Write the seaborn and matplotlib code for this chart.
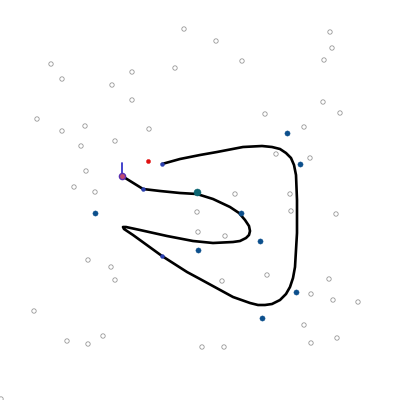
import matplotlib
matplotlib.use("Agg")
import matplotlib.pyplot as plt
import seaborn as sns
import pandas as pd

# hollow grey background points
grey_x = [184, 51, 62, 132, 175, 112, 132, 37, 62, 85, 149, 81, 115, 86, 74, 95,
          216, 330, 332, 242, 324, 323, 340, 265, 304, 310, 276, 235, 290,
          197, 198, 88, 111, 115, 34, 103, 67, 88,
          291, 336, 225, 267, 222, 329, 311, 333, 358, 304, 337, 311, 202, 224, 1]
grey_y = [29, 64, 79, 72, 68, 85, 100, 119, 131, 126, 129, 146, 141, 171, 187, 192,
          41, 32, 48, 61, 60, 102, 113, 114, 127, 158, 154, 194, 194,
          212, 232, 260, 267, 280, 311, 336, 341, 344,
          211, 214, 236, 275, 281, 279, 294, 300, 302, 325, 338, 343, 347, 347, 399]

# filled blue points
blue_x = [287, 300, 95, 198, 241, 260, 296, 262]
blue_y = [133, 164, 213, 250, 213, 241, 292, 318]

# curve path
path_x = [122, 143, 160, 180, 197, 213, 230, 239, 245, 249, 250, 249, 246, 240, 233, 213, 193, 167, 140,
          126, 123, 124, 127, 133, 162, 187, 200, 233, 250, 258, 265, 272, 280, 286, 290, 293, 295, 297, 297,
          296, 294, 291, 286, 280, 272, 262, 243, 217, 200, 180, 162]
path_y = [176, 189, 191, 193, 194, 199, 207, 213, 220, 226, 231, 235, 238, 241, 242, 243, 241, 236, 230,
          227, 227, 229, 231, 235, 256, 272, 279, 297, 303, 305, 305, 304, 300, 294, 287, 278, 267, 233, 200,
          175, 165, 158, 153, 149, 147, 146, 147, 152, 155, 159, 164]

# vertex markers on curve
vert_x = [143, 162, 162]
vert_y = [189, 256, 164]

# special marks
teal_x, teal_y = [197], [192]
red_x, red_y = [148], [161]
start_x, start_y = [122], [176]
stem_x, stem_y = [122, 122], [163, 176]

sns.set_style("white")
fig = plt.figure(figsize=(4, 4), dpi=100)
ax = fig.add_axes([0, 0, 1, 1])

path_df = pd.DataFrame({"x": path_x, "y": path_y})
sns.lineplot(data=path_df, x="x", y="y", sort=False, estimator=None, color="black",
             linewidth=1.9, ax=ax, zorder=3, solid_joinstyle="round")

sns.scatterplot(x=grey_x, y=grey_y, s=10, facecolor="none", edgecolor="#999999",
                linewidth=0.6, ax=ax, zorder=2)
sns.scatterplot(x=blue_x, y=blue_y, s=14, color="#0c4f8c", edgecolor="#0c4f8c",
                linewidth=0.3, ax=ax, zorder=4)
sns.scatterplot(x=vert_x, y=vert_y, s=8, color="#2a3fb0", edgecolor="#2a3fb0",
                linewidth=0.3, ax=ax, zorder=5)
sns.scatterplot(x=teal_x, y=teal_y, s=26, color="#0d6672", edgecolor="#0d6672",
                linewidth=0.3, ax=ax, zorder=5)
sns.scatterplot(x=red_x, y=red_y, s=9, color="#e01010", edgecolor="#e01010",
                linewidth=0.3, ax=ax, zorder=5)
sns.lineplot(x=stem_x, y=stem_y, sort=False, estimator=None, color="#3535c8",
             linewidth=1.3, ax=ax, zorder=5)
sns.scatterplot(x=start_x, y=start_y, s=20, color="#c04a70", edgecolor="#5a2fb0",
                linewidth=1.0, ax=ax, zorder=6)

ax.set_xlim(0, 400)
ax.set_ylim(400, 0)
ax.set_axis_off()
fig.savefig("out.png", dpi=100, facecolor="white")
